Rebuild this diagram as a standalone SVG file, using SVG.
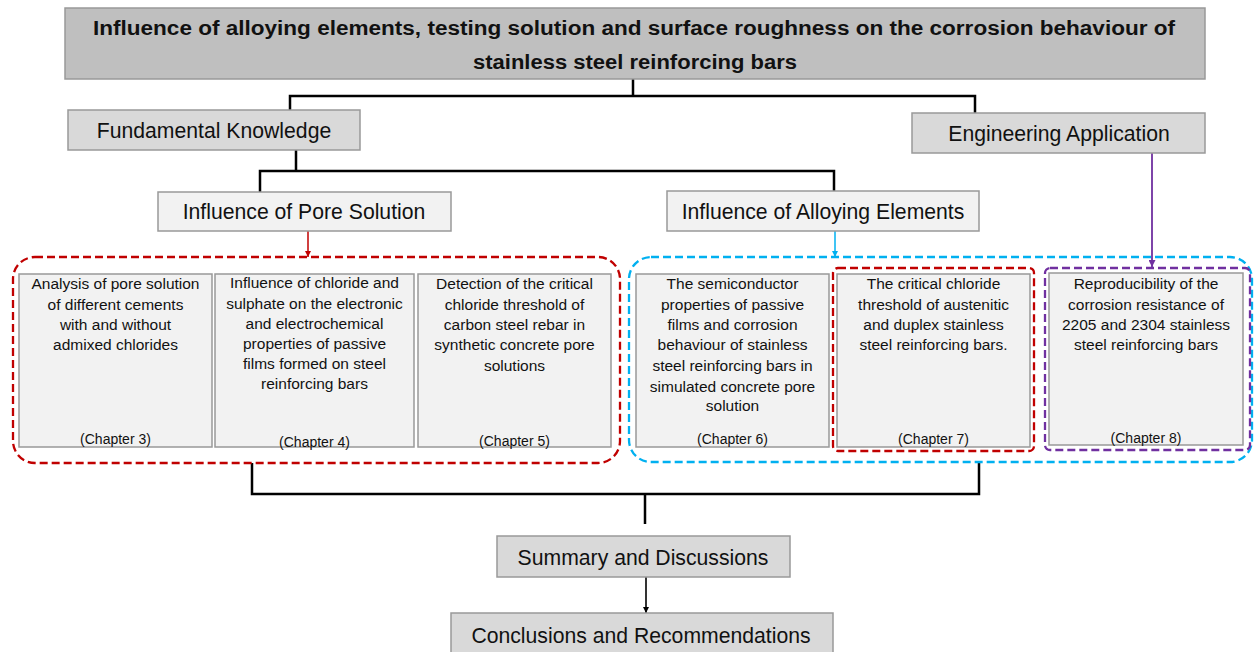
<svg xmlns="http://www.w3.org/2000/svg" width="1256" height="652" viewBox="0 0 1256 652">
<defs>
<style>
text{font-family:"Liberation Sans",Arial,sans-serif;fill:#111;text-anchor:middle;dominant-baseline:central}
.title{font-weight:bold;font-size:20px}
.lbl{font-size:21.2px}
.body{font-size:15.5px}
.ch{font-size:14px}
.b1{fill:#bfbfbf;stroke:#999;stroke-width:1.5}
.b2{fill:#d9d9d9;stroke:#999;stroke-width:1.5}
.b3{fill:#f2f2f2;stroke:#999;stroke-width:1.5}
.tree{fill:none;stroke:#000;stroke-width:2.5}
.thin{fill:none;stroke:#000;stroke-width:1.6}
.dred{fill:none;stroke:#c00000;stroke-width:2.3;stroke-dasharray:8 4}
.dblue{fill:none;stroke:#00b0f0;stroke-width:2.3;stroke-dasharray:8 4}
.dpur{fill:none;stroke:#7030a0;stroke-width:2.3;stroke-dasharray:8 4}
</style>
<marker id="ak" viewBox="0 0 10 10" refX="10" refY="5" markerWidth="6" markerHeight="6" markerUnits="userSpaceOnUse" orient="auto"><path d="M0,0L10,5L0,10z" fill="#000"/></marker>
<marker id="ar" viewBox="0 0 10 10" refX="10" refY="5" markerWidth="6" markerHeight="6" markerUnits="userSpaceOnUse" orient="auto"><path d="M0,0L10,5L0,10z" fill="#c00000"/></marker>
<marker id="ab" viewBox="0 0 10 10" refX="10" refY="5" markerWidth="6" markerHeight="6" markerUnits="userSpaceOnUse" orient="auto"><path d="M0,0L10,5L0,10z" fill="#00b0f0"/></marker>
<marker id="ap" viewBox="0 0 10 10" refX="10" refY="5" markerWidth="7" markerHeight="7" markerUnits="userSpaceOnUse" orient="auto"><path d="M0,0L10,5L0,10z" fill="#7030a0"/></marker>
</defs>
<rect width="1256" height="652" fill="#fff"/>

<g id="connectors">
<path class="tree" d="M633,79V96M290,110V96H975V113M296,150V171M260,192V171H834V191"/>
<path class="tree" d="M252,463V494H979V462M645,494V524"/>
<path fill="none" stroke="#c00000" stroke-width="1.5" d="M308,231V257" marker-end="url(#ar)"/>
<path fill="none" stroke="#00b0f0" stroke-width="1.5" d="M835,231V257" marker-end="url(#ab)"/>
<path fill="none" stroke="#7030a0" stroke-width="1.8" d="M1152,153V267" marker-end="url(#ap)"/>
<path class="thin" d="M646,577V613" marker-end="url(#ak)"/>
</g>

<g id="groups">
<rect class="dred" x="13" y="257" width="607" height="206" rx="22"/>
<rect class="dblue" x="629" y="257" width="623" height="205" rx="22"/>
</g>

<g id="title">
<rect class="b1" x="65" y="8" width="1140" height="71"/>
<text class="title" x="634" y="28" textLength="1082" lengthAdjust="spacingAndGlyphs">Influence of alloying elements, testing solution and surface roughness on the corrosion behaviour of</text>
<text class="title" x="635" y="62" textLength="324" lengthAdjust="spacingAndGlyphs">stainless steel reinforcing bars</text>
</g>

<g id="fundamental">
<rect class="b2" x="68" y="110" width="292" height="40"/>
<text class="lbl" x="214" y="130">Fundamental Knowledge</text>
</g>

<g id="engineering">
<rect class="b2" x="912" y="113" width="293" height="40"/>
<text class="lbl" x="1059" y="133">Engineering Application</text>
</g>

<g id="pore">
<rect class="b3" x="158" y="192" width="293" height="39"/>
<text class="lbl" x="304" y="211.5">Influence of Pore Solution</text>
</g>

<g id="alloying">
<rect class="b3" x="667" y="191" width="312" height="40"/>
<text class="lbl" x="823" y="211">Influence of Alloying Elements</text>
</g>

<g id="ch3">
<rect class="b3" x="19" y="274" width="193" height="173"/>
<text class="body" x="115.5" y="283">Analysis of pore solution</text>
<text class="body" x="115.5" y="304">of different cements</text>
<text class="body" x="115.5" y="324">with and without</text>
<text class="body" x="115.5" y="344">admixed chlorides</text>
<text class="ch" x="115.5" y="439">(Chapter 3)</text>
</g>

<g id="ch4">
<rect class="b3" x="215" y="274" width="199" height="173"/>
<text class="body" x="314.5" y="282">Influence of chloride and</text>
<text class="body" x="314.5" y="303">sulphate on the electronic</text>
<text class="body" x="314.5" y="323">and electrochemical</text>
<text class="body" x="314.5" y="343">properties of passive</text>
<text class="body" x="314.5" y="363">films formed on steel</text>
<text class="body" x="314.5" y="383">reinforcing bars</text>
<text class="ch" x="314.5" y="442">(Chapter 4)</text>
</g>

<g id="ch5">
<rect class="b3" x="418" y="274" width="193" height="173"/>
<text class="body" x="514.5" y="283">Detection of the critical</text>
<text class="body" x="514.5" y="304">chloride threshold of</text>
<text class="body" x="514.5" y="324">carbon steel rebar in</text>
<text class="body" x="514.5" y="344">synthetic concrete pore</text>
<text class="body" x="514.5" y="365">solutions</text>
<text class="ch" x="514.5" y="441">(Chapter 5)</text>
</g>

<g id="ch6">
<rect class="b3" x="636" y="274" width="193" height="173"/>
<text class="body" x="732.5" y="283">The semiconductor</text>
<text class="body" x="732.5" y="304">properties of passive</text>
<text class="body" x="732.5" y="324">films and corrosion</text>
<text class="body" x="732.5" y="344">behaviour of stainless</text>
<text class="body" x="732.5" y="365">steel reinforcing bars in</text>
<text class="body" x="732.5" y="386">simulated concrete pore</text>
<text class="body" x="732.5" y="405">solution</text>
<text class="ch" x="732.5" y="439">(Chapter 6)</text>
</g>

<g id="ch7">
<rect class="dred" x="833" y="268" width="201" height="183" rx="5"/>
<rect class="b3" x="837" y="274" width="193" height="173"/>
<text class="body" x="933.5" y="283">The critical chloride</text>
<text class="body" x="933.5" y="304">threshold of austenitic</text>
<text class="body" x="933.5" y="324">and duplex stainless</text>
<text class="body" x="933.5" y="344">steel reinforcing bars.</text>
<text class="ch" x="933.5" y="439">(Chapter 7)</text>
</g>

<g id="ch8">
<rect class="dpur" x="1045" y="268" width="205" height="182" rx="5"/>
<rect class="b3" x="1049" y="273" width="194" height="172"/>
<text class="body" x="1146" y="283">Reproducibility of the</text>
<text class="body" x="1146" y="304">corrosion resistance of</text>
<text class="body" x="1146" y="324">2205 and 2304 stainless</text>
<text class="body" x="1146" y="344">steel reinforcing bars</text>
<text class="ch" x="1146" y="438">(Chapter 8)</text>
</g>

<g id="summary">
<rect class="b2" x="497" y="536" width="293" height="41"/>
<text class="lbl" x="643" y="557">Summary and Discussions</text>
</g>

<g id="conclusions">
<rect class="b2" x="451" y="613" width="382" height="50"/>
<text class="lbl" x="641" y="635">Conclusions and Recommendations</text>
</g>
</svg>
